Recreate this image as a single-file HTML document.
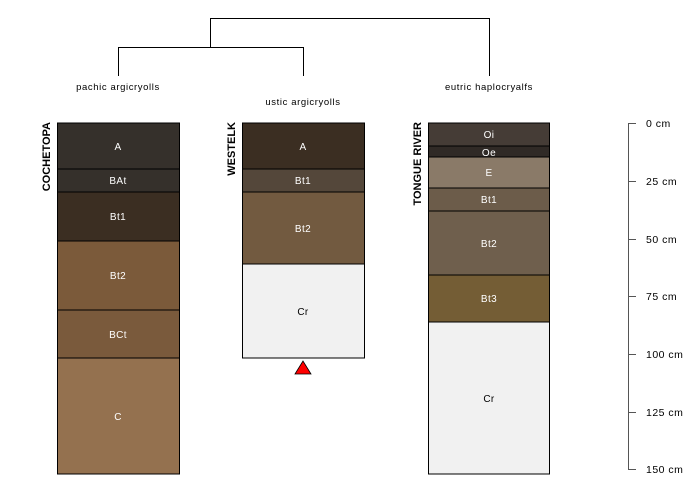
<!DOCTYPE html>
<html><head><style>body{margin:0;background:#fff}svg{display:block}text{font-family:"Liberation Sans",sans-serif}</style></head><body>
<svg width="700" height="500" xmlns="http://www.w3.org/2000/svg">
<g stroke="#000" stroke-width="1" fill="none">
<polyline points="210.5,47 210.5,18.5 489.5,18.5 489.5,76"/>
<polyline points="118.5,76 118.5,47.5 303.5,47.5 303.5,76"/>
</g>
<g font-size="9.5" fill="#000" text-anchor="middle" letter-spacing="0.6">
<text x="118" y="90">pachic argicryolls</text>
<text x="303" y="105">ustic argicryolls</text>
<text x="489" y="90">eutric haplocryalfs</text>
</g>
<g font-size="11" font-weight="bold" text-anchor="end">
<text transform="translate(50,122) rotate(-90)">COCHETOPA</text>
<text transform="translate(235,122) rotate(-90)">WESTELK</text>
<text transform="translate(421,122) rotate(-90)">TONGUE RIVER</text>
</g>
<g stroke="#000" stroke-width="1">
<rect x="57.5" y="123" width="122" height="46" fill="#35302b"/>
<rect x="57.5" y="169" width="122" height="23" fill="#35302b"/>
<rect x="57.5" y="192" width="122" height="49" fill="#3b2e22"/>
<rect x="57.5" y="241" width="122" height="69" fill="#7b5a3a"/>
<rect x="57.5" y="310" width="122" height="48" fill="#7a5a3c"/>
<rect x="57.5" y="358" width="122" height="116" fill="#94714f"/>
<rect x="242.5" y="123" width="122" height="46" fill="#3b2e22"/>
<rect x="242.5" y="169" width="122" height="23" fill="#54473a"/>
<rect x="242.5" y="192" width="122" height="72" fill="#725a40"/>
<rect x="242.5" y="264" width="122" height="94" fill="#f1f1f1"/>
<rect x="428.5" y="123" width="121" height="23" fill="#453c36"/>
<rect x="428.5" y="146" width="121" height="11" fill="#302a26"/>
<rect x="428.5" y="157" width="121" height="31" fill="#8a7a68"/>
<rect x="428.5" y="188" width="121" height="23" fill="#6c5c4a"/>
<rect x="428.5" y="211" width="121" height="64" fill="#6f5f4d"/>
<rect x="428.5" y="275" width="121" height="47" fill="#745d35"/>
<rect x="428.5" y="322" width="121" height="152" fill="#f1f1f1"/>
</g>
<polygon points="303,361 295,374 311,374" fill="#f00" stroke="#000" stroke-width="0.8"/>
<g font-size="10" text-anchor="middle" fill="#fff" letter-spacing="0.4">
<text x="118" y="150">A</text><text x="118" y="184">BAt</text><text x="118" y="220">Bt1</text>
<text x="118" y="279">Bt2</text><text x="118" y="338">BCt</text><text x="118" y="420">C</text>
<text x="303" y="150">A</text><text x="303" y="184">Bt1</text><text x="303" y="232">Bt2</text>
<text x="303" y="315" fill="#000">Cr</text>
<text x="489" y="138">Oi</text><text x="489" y="156">Oe</text><text x="489" y="176">E</text>
<text x="489" y="203">Bt1</text><text x="489" y="247">Bt2</text><text x="489" y="302">Bt3</text>
<text x="489" y="402" fill="#000">Cr</text>
</g>
<g stroke="#555" stroke-width="1">
<line x1="628.5" y1="123" x2="628.5" y2="469"/>
<line x1="628" y1="123.5" x2="636" y2="123.5"/><line x1="628" y1="181.5" x2="636" y2="181.5"/>
<line x1="628" y1="239.5" x2="636" y2="239.5"/><line x1="628" y1="296.5" x2="636" y2="296.5"/>
<line x1="628" y1="354.5" x2="636" y2="354.5"/><line x1="628" y1="412.5" x2="636" y2="412.5"/>
<line x1="628" y1="469.5" x2="636" y2="469.5"/>
</g>
<g font-size="10.5" fill="#000" letter-spacing="0.5">
<text x="646" y="127">0 cm</text><text x="646" y="185">25 cm</text><text x="646" y="243">50 cm</text>
<text x="646" y="300">75 cm</text><text x="646" y="358">100 cm</text><text x="646" y="416">125 cm</text>
<text x="646" y="473">150 cm</text>
</g>
</svg>
</body></html>
